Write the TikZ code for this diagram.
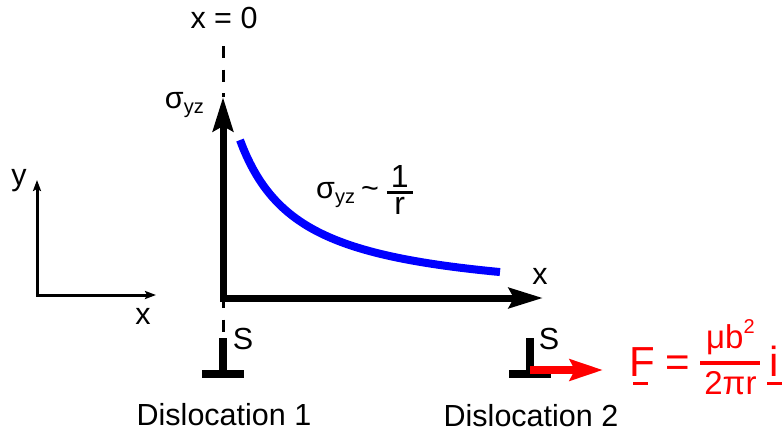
\documentclass[tikz,border=0pt]{standalone}
\usepackage{fontspec}
\setmainfont{Liberation Sans}
\usetikzlibrary{arrows.meta,calc}
\definecolor{ink}{HTML}{000000}
\definecolor{field}{HTML}{0000FF}
\definecolor{force}{HTML}{FF0000}
\newcommand{\lowidx}[1]{\raisebox{-5pt}{\fontsize{20}{20}\selectfont #1}}
\newcommand{\highidx}[1]{\raisebox{15pt}{\fontsize{20}{20}\selectfont #1}}
\newdimen\fracw \newdimen\fracup \newdimen\fracdown
% bar height, size, gap, numerator, denominator
\newcommand{\fracsf}[5]{%
  \begingroup
  \setbox0\hbox{\fontsize{#2}{#2}\selectfont #4}%
  \setbox2\hbox{\fontsize{#2}{#2}\selectfont #5}%
  \fracw=\ifdim\wd0>\wd2 \wd0\else\wd2\fi
  \advance\fracw by 8pt
  \fracup=\dimexpr #1+1.75pt+#3+\dp0\relax
  \fracdown=\dimexpr #1-1.75pt-#3-\ht2\relax
  \hbox to\fracw{%
    \rlap{\raise\fracup\hbox to\fracw{\hss\copy0\hss}}%
    \rlap{\raise\dimexpr #1-1.75pt\relax\hbox{\vrule width\fracw height 3.5pt depth 0pt}}%
    \rlap{\raise\fracdown\hbox to\fracw{\hss\copy2\hss}}%
    \hss}%
  \endgroup}
\newcommand{\vecsf}[3][2pt]{\rlap{\hspace{#1}\rule[-9pt]{#2}{3pt}}#3}

\begin{document}
\begin{tikzpicture}[x=1pt, y=-1pt, ink,
    lbl/.style={font=\fontsize{30.5}{34}\selectfont, inner sep=0pt},
    axis/.style={line width=7pt, {Stealth[length=34pt, width=20pt, inset=5pt]}-{Stealth[length=34pt, width=20pt, inset=5pt]}},
    frame/.style={line width=3pt, {Stealth[length=11pt, width=8pt, inset=2pt]}-{Stealth[length=11pt, width=8pt, inset=2pt]}},
    cut/.style={line width=3pt, dash pattern=on 12pt off 11.5pt},
    core/.style={line width=8pt},
    curve/.style={field, line width=8pt},
    push/.style={force, line width=8pt, -{Stealth[length=33pt, width=21pt, inset=5pt]}},
  ]
% --- Background ------------------------------------------------------------------
\fill[white] (0,0) rectangle (782,432);
\useasboundingbox (0,0) rectangle (782,432);

% --- Points ------------------------------------------------------------------------
\coordinate (origin) at (223,298);
\coordinate (sigtip) at (223,97);
\coordinate (xtip) at (543,298);
\coordinate (dashtop) at (223,46);
\coordinate (dashlow) at (223,296);
\coordinate (disl1) at (223,374);
\coordinate (disl2) at (530,374);
\coordinate (fstart) at (530,370);
\coordinate (fend) at (603,370);
\coordinate (ftipy) at (37,180);
\coordinate (ftipx) at (156,295);

% --- Labels ------------------------------------------------------------------------
\node[lbl] (xzero) at (224,18) {x = 0};
\node[lbl, anchor=base east] (sigaxis) at (204,108) {σ\lowidx{yz}};
\node[lbl, anchor=base west] (law) at (316,198) {σ\lowidx{yz}\hspace{6pt}\textasciitilde\hspace{8pt}\fracsf{5.5pt}{32}{3.5pt}{1}{r}};
\node[lbl] (xlab) at (540,276) {x};
\node[lbl] (ylab) at (19,181) {y};
\node[lbl] (xsmall) at (143,316) {x};
\node[lbl] (s1) at (243,339) {S};
\node[lbl] (s2) at (549,339) {S};
\node[lbl, anchor=base] (name1) at (224,425) {Dislocation 1};
\node[lbl, anchor=base] (name2) at (531,426) {Dislocation 2};
\node[lbl, force, anchor=base west, font=\fontsize{42}{44}\selectfont] (forcelaw) at (629,376)
  {\vecsf[4pt]{15pt}{F}\hspace{11pt}=\hspace{10pt}\fracsf{13pt}{33}{6.5pt}{μb\highidx{2}}{2πr}\hspace{9pt}\vecsf[-2pt]{15pt}{i}};

% --- Lines -------------------------------------------------------------------------
\draw[cut] (dashtop) -- (sigtip);
\draw[cut] (dashlow) -- ($(disl1)+(0,-36)$);
\draw[axis] (sigtip) |- (xtip);
\draw[frame] (ftipy) |- (ftipx);
\draw[curve] plot[domain=240:500, samples=80] (\x, {302.5-9748/(\x-180)});

% --- Dislocations ------------------------------------------------------------------
\draw[core] (disl1) -- ++(0,-36);
\draw[core] ($(disl1)+(-21,0)$) -- ++(42,0);
\draw[core] (disl2) -- ++(0,-36);
\draw[core] ($(disl2)+(-21,0)$) -- ++(42,0);
\draw[push] (fstart) -- (fend);
\end{tikzpicture}
\end{document}
